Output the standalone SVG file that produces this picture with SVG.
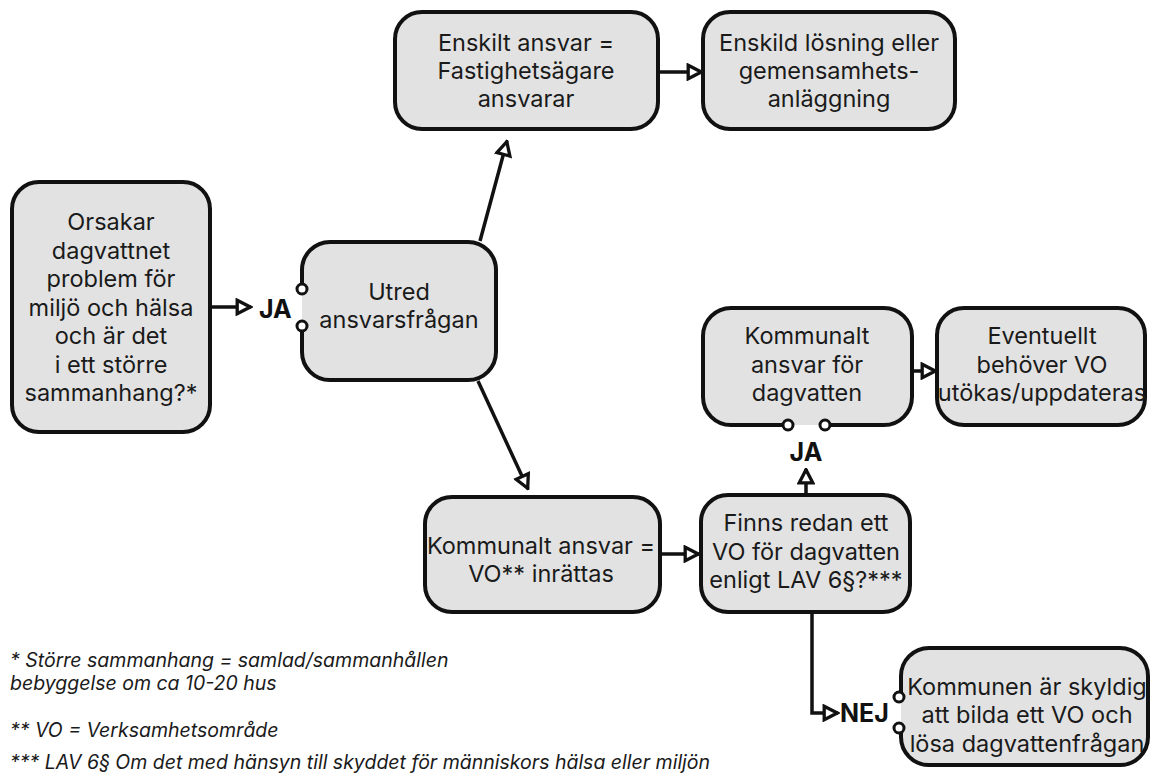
<svg xmlns="http://www.w3.org/2000/svg" width="1157" height="774" viewBox="0 0 1157 774">
<defs>
<style>
.box{fill:#e2e2e2;stroke:#111;stroke-width:4;stroke-linejoin:round}
.t{font-family:Inter,"Noto Sans","DejaVu Sans",sans-serif;font-size:23.5px;fill:#1a1a1a;text-anchor:middle}
.lbl{font-family:Inter,"Noto Sans","DejaVu Sans",sans-serif;font-size:25px;font-weight:bold;fill:#111}
.fn{font-family:Inter,"Noto Sans","DejaVu Sans",sans-serif;font-size:19.5px;font-style:italic;fill:#1a1a1a}
.c{fill:none;stroke:#111;stroke-width:3.5}
.dot{fill:#fff;stroke:#111;stroke-width:3}
</style>
<marker id="ah" viewBox="0 0 12 12" refX="11" refY="6" markerWidth="18" markerHeight="18" markerUnits="userSpaceOnUse" orient="auto">
<path d="M1.8,1.5 L10.5,6 L1.8,10.5 Z" fill="#fff" stroke="#111" stroke-width="2.2" stroke-linejoin="miter"/>
</marker>
</defs>
<rect width="1157" height="774" fill="#fff"/>

<g id="connectors">
<line class="c" x1="210" y1="307" x2="251" y2="307" marker-end="url(#ah)"/>
<line class="c" x1="480" y1="241" x2="507" y2="141" marker-end="url(#ah)"/>
<line class="c" x1="478" y1="381" x2="528" y2="489" marker-end="url(#ah)"/>
<line class="c" x1="658" y1="72" x2="702" y2="72" marker-end="url(#ah)"/>
<line class="c" x1="912" y1="371" x2="936" y2="371" marker-end="url(#ah)"/>
<line class="c" x1="660" y1="554" x2="699" y2="554" marker-end="url(#ah)"/>
<line class="c" x1="806" y1="495" x2="806" y2="469" marker-end="url(#ah)"/>
<polyline class="c" points="812,612 812,713 838,713" marker-end="url(#ah)"/>
</g>

<g id="n1">
<rect class="box" x="12" y="182" width="198" height="250" rx="27"/>
<text class="t" x="111" y="230">Orsakar</text>
<text class="t" x="111" y="258.5">dagvattnet</text>
<text class="t" x="111" y="287">problem för</text>
<text class="t" x="111" y="315.5">miljö och hälsa</text>
<text class="t" x="111" y="344">och är det</text>
<text class="t" x="111" y="372.5">i ett större</text>
<text class="t" x="111" y="401">sammanhang?*</text>
</g>

<g id="ja1">
<text class="lbl" x="259" y="318">JA</text>
</g>

<g id="n2">
<path class="box" d="M302,289 V270 A28,28 0 0 1 330,242 H468 A28,28 0 0 1 496,270 V352 A28,28 0 0 1 468,380 H330 A28,28 0 0 1 302,352 V326"/>
<circle class="dot" cx="302" cy="289" r="5"/>
<circle class="dot" cx="302" cy="326" r="5"/>
<text class="t" x="399" y="300">Utred</text>
<text class="t" x="399" y="328">ansvarsfrågan</text>
</g>

<g id="n3">
<rect class="box" x="395" y="12" width="263" height="117" rx="27"/>
<text class="t" x="526" y="51">Enskilt ansvar =</text>
<text class="t" x="526" y="79">Fastighetsägare</text>
<text class="t" x="526" y="107">ansvarar</text>
</g>

<g id="n4">
<rect class="box" x="703" y="12" width="252" height="117" rx="27"/>
<text class="t" x="829" y="51">Enskild lösning eller</text>
<text class="t" x="829" y="79">gemensamhets-</text>
<text class="t" x="829" y="107">anläggning</text>
</g>

<g id="n5">
<path class="box" d="M788,425 H731 A28,28 0 0 1 703,397 V336 A28,28 0 0 1 731,308 H884 A28,28 0 0 1 912,336 V397 A28,28 0 0 1 884,425 H825"/>
<circle class="dot" cx="788" cy="425" r="5"/>
<circle class="dot" cx="825" cy="425" r="5"/>
<text class="t" x="807" y="344">Kommunalt</text>
<text class="t" x="807" y="373">ansvar för</text>
<text class="t" x="807" y="401">dagvatten</text>
</g>

<g id="ja2">
<text class="lbl" x="806" y="461" text-anchor="middle">JA</text>
</g>

<g id="n6">
<rect class="box" x="937" y="308" width="208" height="117" rx="27"/>
<text class="t" x="1042" y="344">Eventuellt</text>
<text class="t" x="1042" y="373">behöver VO</text>
<text class="t" x="1042" y="401">utökas/uppdateras</text>
</g>

<g id="n7">
<rect class="box" x="425" y="497" width="235" height="115" rx="27"/>
<text class="t" x="541" y="554">Kommunalt ansvar =</text>
<text class="t" x="541" y="582">VO** inrättas</text>
</g>

<g id="n8">
<rect class="box" x="701" y="495" width="209" height="117" rx="27"/>
<text class="t" x="806" y="531">Finns redan ett</text>
<text class="t" x="806" y="560">VO för dagvatten</text>
<text class="t" x="806" y="588">enligt LAV 6§?***</text>
</g>

<g id="nej">
<text class="lbl" x="840" y="722">NEJ</text>
</g>

<g id="n9">
<path class="box" d="M901,697 V676 A28,28 0 0 1 929,648 H1120 A28,28 0 0 1 1148,676 V737 A28,28 0 0 1 1120,765 H929 A28,28 0 0 1 901,737 V728"/>
<circle class="dot" cx="899" cy="697" r="5"/>
<circle class="dot" cx="899" cy="728" r="5"/>
<text class="t" x="1027" y="695">Kommunen är skyldig</text>
<text class="t" x="1027" y="723">att bilda ett VO och</text>
<text class="t" x="1027" y="752">lösa dagvattenfrågan</text>
</g>

<g id="footnotes">
<text class="fn" x="10" y="667">* Större sammanhang = samlad/sammanhållen</text>
<text class="fn" x="10" y="690">bebyggelse om ca 10-20 hus</text>
<text class="fn" x="10" y="737">** VO = Verksamhetsområde</text>
<text class="fn" x="10" y="769">*** LAV 6§ Om det med hänsyn till skyddet för människors hälsa eller miljön</text>
</g>
</svg>
